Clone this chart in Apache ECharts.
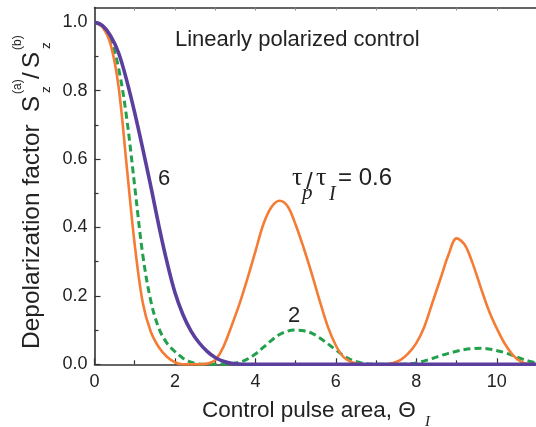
<!DOCTYPE html>
<html><head><meta charset="utf-8">
<script src="https://cdn.jsdelivr.net/npm/echarts@6/dist/echarts.min.js"></script>
<style>html,body{margin:0;padding:0;background:#fff}#c{width:536px;height:427px}</style>
</head><body><div id="c"></div>
<script>
// ---- data ----
const thetaValues = [0,0.2,0.4,0.6,0.8,1,1.2,1.4,1.6,1.8,2,2.2,2.4,2.6,2.8,3,3.2,3.4,3.6,3.8,4,4.2,4.4,4.6,4.8,5,5.2,5.4,5.6,5.8,6,6.2,6.4,6.6,6.8,7,7.2,7.4,7.6,7.8,8,8.2,8.4,8.6,8.8,9,9.2,9.4,9.6,9.8,10,10.2,10.4,10.6,10.8,11];
const ratio06 = [1.0,0.985,0.935,0.81,0.58,0.35,0.18,0.095,0.05,0.022,0.006,0,0,0,0.002,0.012,0.05,0.11,0.175,0.25,0.33,0.41,0.46,0.478,0.462,0.408,0.34,0.265,0.185,0.11,0.055,0.02,0.006,0.001,0,0,0,0.003,0.012,0.032,0.062,0.11,0.18,0.25,0.32,0.368,0.35,0.295,0.225,0.158,0.105,0.06,0.027,0.008,0.001,0];
const ratio2 = [1.0,0.99,0.95,0.865,0.72,0.52,0.32,0.185,0.105,0.062,0.037,0.018,0.006,0.001,0,0,0,0.002,0.006,0.015,0.03,0.05,0.07,0.087,0.097,0.1,0.098,0.091,0.077,0.06,0.042,0.025,0.012,0.005,0.001,0,0,0,0,0.001,0.004,0.01,0.017,0.025,0.032,0.038,0.043,0.046,0.047,0.045,0.04,0.034,0.026,0.017,0.009,0.004];
const ratio6 = [1.0,0.99,0.96,0.91,0.83,0.735,0.63,0.52,0.405,0.3,0.21,0.145,0.097,0.063,0.038,0.02,0.009,0.003,0.0005,0,0,0,0,0,0,0,0,0,0,0,0,0,0,0,0,0,0,0,0,0,0,0,0,0,0,0,0,0,0,0,0,0,0,0,0,0];
const xMajorTicks = [0,2,4,6,8,10];
const xMinorTicks = [1,3,5,7,9];
const xTopTicks = [1,2,3,4,5,6,7,8,9,10];
const yMajorTicks = [0,0.2,0.4,0.6,0.8,1.0];
const yMinorTicks = [0.1,0.3,0.5,0.7,0.9];

const SANS = '"Liberation Sans", Arial, Helvetica, sans-serif';
const SERIF = '"Liberation Serif", "Times New Roman", serif';
const AX = '#333';
const pair = ys => thetaValues.map((x, i) => [x, ys[i]]);

const mctx = document.createElement('canvas').getContext('2d');
function midOffset(font) {
  mctx.font = font;
  mctx.textBaseline = 'middle';
  const m = mctx.measureText('H');
  const d = m.actualBoundingBoxDescent;
  return (typeof d === 'number' && isFinite(d)) ? d : 0.35 * parseFloat(font.replace('italic ', ''));
}
// x, baseline -> text element (vertical middle placed so that the alphabetic baseline sits at `baseline`)
function txt(x, baseline, text, size, opts) {
  opts = opts || {};
  const font = (opts.italic ? 'italic ' : '') + size + 'px ' + (opts.serif ? SERIF : SANS);
  return {
    type: 'text', x: x, y: baseline - midOffset(font), silent: true,
    style: {text: text, fill: '#222', font: font, align: 'left', verticalAlign: 'middle'}
  };
}

const chart = echarts.init(document.getElementById('c'), null, {renderer: 'canvas'});
const xBase = {type: 'value', min: 0, max: 11, splitLine: {show: false}};
const yBase = {type: 'value', min: 0, max: 1.043, splitLine: {show: false}};
chart.setOption({
  animation: false,
  backgroundColor: '#fff',
  grid: {left: 94.5, top: 7.5, width: 442.5, height: 356.8, containLabel: false, outerBoundsMode: 'none'},
  xAxis: [
    Object.assign({}, xBase, {
      position: 'bottom',
      axisLine: {show: true, lineStyle: {color: AX, width: 1.6}},
      axisTick: {show: true, inside: true, length: 6, customValues: xMajorTicks, lineStyle: {color: AX, width: 1.2}},
      axisLabel: {show: true, customValues: xMajorTicks, fontSize: 18, fontFamily: SANS, color: '#222', margin: 9}
    }),
    Object.assign({}, xBase, {
      position: 'bottom',
      axisLine: {show: false},
      axisTick: {show: true, inside: true, length: 4, customValues: xMinorTicks, lineStyle: {color: AX, width: 1.2}},
      axisLabel: {show: false}
    }),
    Object.assign({}, xBase, {
      position: 'top',
      axisLine: {show: true, lineStyle: {color: AX, width: 1.6}},
      axisTick: {show: true, inside: true, length: 3, customValues: xTopTicks, lineStyle: {color: '#888', width: 1}},
      axisLabel: {show: false}
    })
  ],
  yAxis: [
    Object.assign({}, yBase, {
      position: 'left',
      axisLine: {show: true, lineStyle: {color: AX, width: 1.6}},
      axisTick: {show: true, inside: true, length: 6, customValues: yMajorTicks, lineStyle: {color: AX, width: 1.2}},
      axisLabel: {show: true, customValues: yMajorTicks, fontSize: 18, fontFamily: SANS, color: '#222', margin: 7,
        formatter: v => v.toFixed(1)}
    }),
    Object.assign({}, yBase, {
      position: 'left',
      axisLine: {show: false},
      axisTick: {show: true, inside: true, length: 4, customValues: yMinorTicks, lineStyle: {color: AX, width: 1.2}},
      axisLabel: {show: false}
    })
  ],
  series: [
    {type: 'line', name: '2', data: pair(ratio2), xAxisIndex: 0, yAxisIndex: 0, showSymbol: false, smooth: 0.35, clip: false,
      lineStyle: {color: '#22A04B', width: 3, type: [7, 4], cap: 'butt'}, z: 3},
    {type: 'line', name: '0.6', data: pair(ratio06), xAxisIndex: 0, yAxisIndex: 0, showSymbol: false, smooth: 0.35, clip: false,
      lineStyle: {color: '#F47C35', width: 2.6}, z: 4},
    {type: 'line', name: '6', data: pair(ratio6), xAxisIndex: 0, yAxisIndex: 0, showSymbol: false, smooth: 0.35, clip: false,
      lineStyle: {color: '#5B3F9E', width: 3.6}, z: 5}
  ],
  graphic: [
    txt(175, 45.5, 'Linearly polarized control', 22),
    txt(158, 185, '6', 22),
    txt(288, 321.5, '2', 22),
    // tau_p / tau_l = 0.6
    txt(292, 185, 'τ', 26, {serif: true}),
    txt(302, 199, 'p', 21, {serif: true, italic: true}),
    txt(306, 189, '/', 24),
    txt(316, 185, 'τ', 26, {serif: true}),
    txt(329, 200, 'I', 20, {serif: true, italic: true}),
    txt(338, 185, '= 0.6', 24),
    // x axis title
    txt(202, 417, 'Control pulse area, Θ', 22.5),
    txt(425, 426, 'I', 15, {serif: true, italic: true}),
    // y axis title (rotated group, local x runs upward, local -y runs left)
    {
      type: 'group', x: 38.5, y: 349, rotation: Math.PI / 2, silent: true,
      children: [
        txt(0, 0, 'Depolarization factor', 24.5),
        txt(237, 0, 'S', 24),
        txt(255, -18, '(a)', 12),
        txt(256, 11.5, 'z', 13.5),
        txt(270, 0, '/', 24),
        txt(281, 0, 'S', 24),
        txt(299, -18, '(b)', 12),
        txt(300, 11.5, 'z', 13.5)
      ]
    }
  ]
});
</script></body></html>
